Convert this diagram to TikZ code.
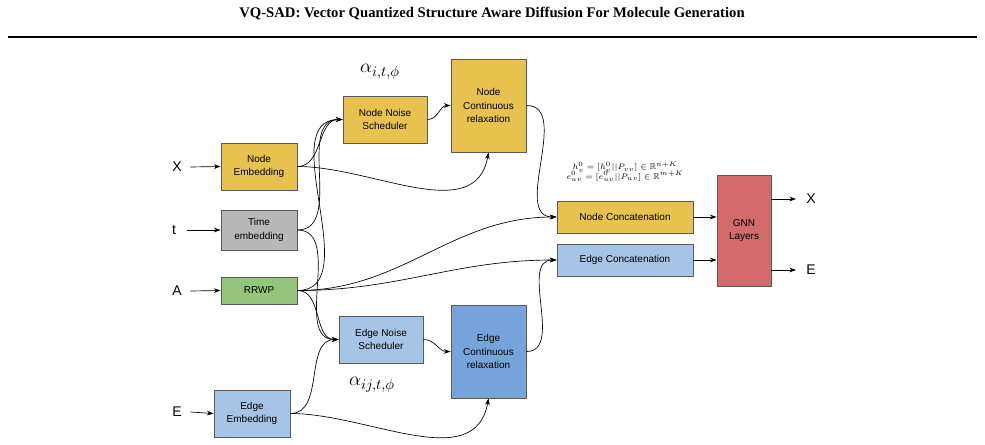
\documentclass[tikz,border=0pt]{standalone}
\usepackage{amssymb}
\usepackage{fontspec}
\setmainfont{Liberation Serif}
\newfontfamily\sfont{Liberation Sans}
\usetikzlibrary{arrows.meta}
\definecolor{cyel}{HTML}{E8C24F}
\definecolor{cgray}{HTML}{B8B8B8}
\definecolor{cgreen}{HTML}{95C47C}
\definecolor{clb}{HTML}{A6C4E6}
\definecolor{cdb}{HTML}{76A3D9}
\definecolor{cred}{HTML}{D46A6A}
% name, x1, y1, x2, y2, colour, text
\newcommand\mybox[7]{\node[box,fill=#6,minimum width={(#4-#2)*0.75pt},minimum height={(#5-#3)*0.75pt}] (#1) at ({(#2+#4)/2},{(#3+#5)/2}) {#7};}
\begin{document}
\begin{tikzpicture}[x=0.75pt,y=-0.75pt,
  box/.style={draw=black!65,line width=0.7pt,align=center,font=\sfont\fontsize{7.5}{10}\selectfont,inner sep=0pt},
  lab/.style={font=\sfont\fontsize{10.5}{12}\selectfont},
  ar/.style={-{Stealth[length=5pt,width=3.5pt]},line width=0.5pt}]
\useasboundingbox (0,0) rectangle (985,444);
\node[font=\bfseries\fontsize{11}{13}\selectfont] (title) at (492,14) {VQ-SAD: Vector Quantized Structure Aware Diffusion For Molecule Generation};
\draw[line width=0.8pt] (8,37) -- (977,37);
% boxes
\mybox{ne}{221}{143}{297}{190}{cyel}{Node\\Embedding}
\mybox{te}{221}{210}{297}{250}{cgray}{Time\\embedding}
\mybox{rr}{221}{277}{297}{304}{cgreen}{RRWP}
\mybox{ee}{214}{390}{290}{437}{clb}{Edge\\Embedding}
\mybox{nns}{343}{96}{427}{143}{cyel}{Node Noise\\Scheduler}
\mybox{ncr}{451}{59}{526}{152}{cyel}{Node\\Continuous\\relaxation}
\mybox{ens}{339}{316}{423}{363}{clb}{Edge Noise\\Scheduler}
\mybox{ecr}{451}{305}{526}{398}{cdb}{Edge\\Continuous\\relaxation}
\mybox{nc}{557}{201}{693}{233}{cyel}{Node Concatenation}
\mybox{ec}{557}{244}{693}{276}{clb}{Edge Concatenation}
\mybox{gnn}{717}{175}{771}{286}{cred}{GNN\\Layers}
% inputs
\node[lab] (ix) at (177,167) {X};
\node[lab] (it) at (174,230) {t};
\node[lab] (ia) at (177,291) {A};
\node[lab] (ie) at (177,412) {E};
\node[lab] (ox) at (811,199) {X};
\node[lab] (oe) at (811,270) {E};
\coordinate (oxa) at (796,199);
\coordinate (oea) at (796,270);
\draw[ar] (ix.east) ++(4,0) -- (ne.west);
\draw[ar] (it.east) ++(6,0) -- (te.west);
\draw[ar] (ia.east) ++(4,0) -- (rr.west);
\draw[ar] (ie.east) ++(4,0) -- (ee.west);
% labels
\node[font=\fontsize{15}{16}\selectfont] (a1) at (380,72) {$\alpha_{i,t,\phi}$};
\node[font=\fontsize{15}{16}\selectfont] (a2) at (372,385) {$\alpha_{ij,t,\phi}$};
\node[font=\fontsize{6.5}{8}\selectfont,align=center] (f) at (625,172) {$h_v^0=[h_v^0||P_{vv}]\in\mathbb{R}^{n+K}$\\[-1pt]$e_{uv}^0=[e_{uv}^0||P_{uv}]\in\mathbb{R}^{m+K}$};
% connectors
\draw[ar] (ne.east) to[out=0,in=180] (nns.west);
\draw[ar] (te.east) to[out=0,in=180] (nns.west);
\draw[ar] (rr.east) to[out=0,in=180] (nns.west);
\draw[ar] (te.east) to[out=0,in=180] (ens.west);
\draw[ar] (rr.east) to[out=0,in=180] (ens.west);
\draw[ar] (ee.east) to[out=0,in=180] (ens.west);
\draw[ar] (ne.east) to[out=0,in=-100] (ncr.south);
\draw[ar] (ee.east) to[out=0,in=-100] (ecr.south);
\draw[ar] (nns.east) to[out=0,in=180] (ncr.west);
\draw[ar] (ens.east) to[out=0,in=180] (ecr.west);
\draw[ar] (rr.east) to[out=0,in=180] (nc.west);
\draw[ar] (rr.east) to[out=0,in=180] (ec.west);
\draw[ar] (ncr.east) to[out=0,in=180] (nc.west);
\draw[ar] (ecr.east) to[out=0,in=180] (ec.west);
\draw[ar] (nc.east) -- (gnn.west |- nc.east);
\draw[ar] (ec.east) -- (gnn.west |- ec.east);
\draw[ar] (gnn.east |- ox) -- (oxa);
\draw[ar] (gnn.east |- oe) -- (oea);
\end{tikzpicture}
\end{document}
